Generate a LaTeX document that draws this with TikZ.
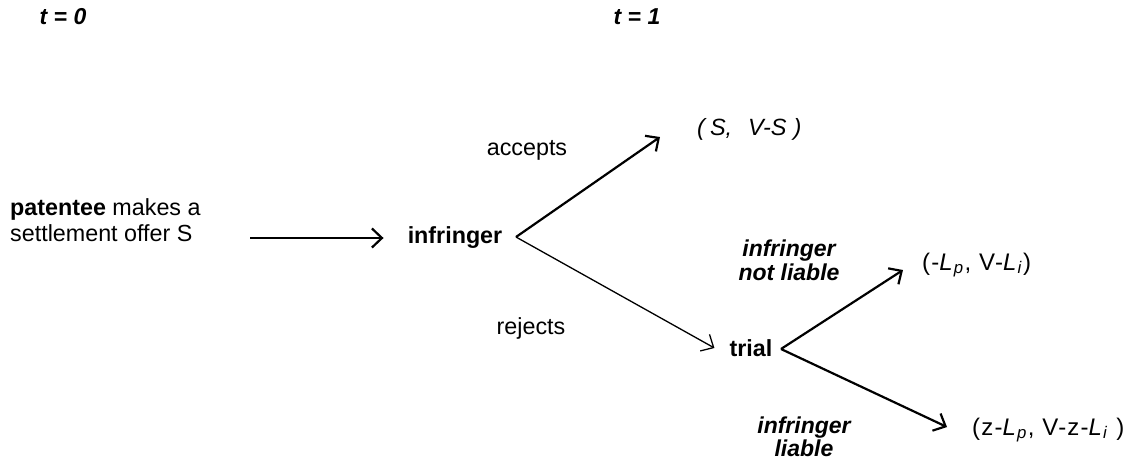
\documentclass[tikz,border=0pt]{standalone}
\usepackage{fontspec}
\setmainfont{Liberation Sans}
\usetikzlibrary{arrows.meta,positioning}
\tikzset{>={Straight Barb[length=10pt,width=19pt]}}
\tikzset{
  lbl/.style={font=\fontsize{23.3}{26}\selectfont, inner sep=0pt},
  boldlbl/.style={lbl, font=\fontsize{23.3}{26}\selectfont\bfseries},
  caselbl/.style={lbl, font=\fontsize{23}{23}\selectfont\bfseries\itshape, align=center},
  paylbl/.style={lbl, anchor=west, font=\fontsize{24}{26}\selectfont\addfontfeature{LetterSpace=5}},
  move/.style={line width=2.2pt},
  thinmove/.style={line width=1.3pt}
}
\newcommand{\idx}[2]{\textit{#1}\textsubscript{\textit{#2}}}

\begin{document}
\begin{tikzpicture}[x=1pt, y=-1pt]
      \useasboundingbox (0,0) rectangle (1133,467);
      % time line
      \node[caselbl] (t0) at (63,17) {t = 0};
      \node[caselbl] (t1) at (637,17) {t = 1};
      % first move
      \node[lbl, anchor=west, align=left] (offer) at (10,220) {\textbf{patentee} makes a\\settlement offer S};
      \coordinate (start) at (250,238);
      \node[boldlbl] (infr) at (455,238) {infringer};
      \draw[move, ->] (start) -- ([xshift=-24pt]infr.west);
      % infringer decides
      \coordinate (fork1) at (516,237);
      \coordinate (tipS) at (660,137);
      \node[lbl, anchor=west, font=\fontsize{23.5}{26}\selectfont\itshape] (settle) at (697,129) {(\hspace{5pt}S,\hspace{16pt}V-S\hspace{7pt})};
      \node[lbl] (accept) at (527,150) {accepts};
      \node[lbl] (reject) at (531,328) {rejects};
      \node[boldlbl] (trial) at (751,348) {trial};
      \draw[move, ->] (fork1) -- (tipS);
      \draw[thinmove, ->] (fork1) -- ([xshift=-15pt]trial.west);
      % court decides
      \coordinate (fork2) at (781,349);
      \coordinate (tipN) at (903,270);
      \coordinate (tipZ) at (947,427);
      \node[caselbl, font=\fontsize{23}{24}\selectfont\bfseries\itshape] (notliab) at (789,260) {infringer\\not liable};
      \node[caselbl] (liab) at (804,437) {infringer\\liable};
      \node[paylbl] (pay1) at (922,265) {(-\idx{L}{p}, V-\idx{L}{i})};
      \node[paylbl] (pay2) at (972,430) {(z-\idx{L}{p}, V-z-\idx{L}{i} )};
      \draw[move, ->] (fork2) -- (tipN);
      \draw[move, ->] (fork2) -- (tipZ);
\end{tikzpicture}
\end{document}
